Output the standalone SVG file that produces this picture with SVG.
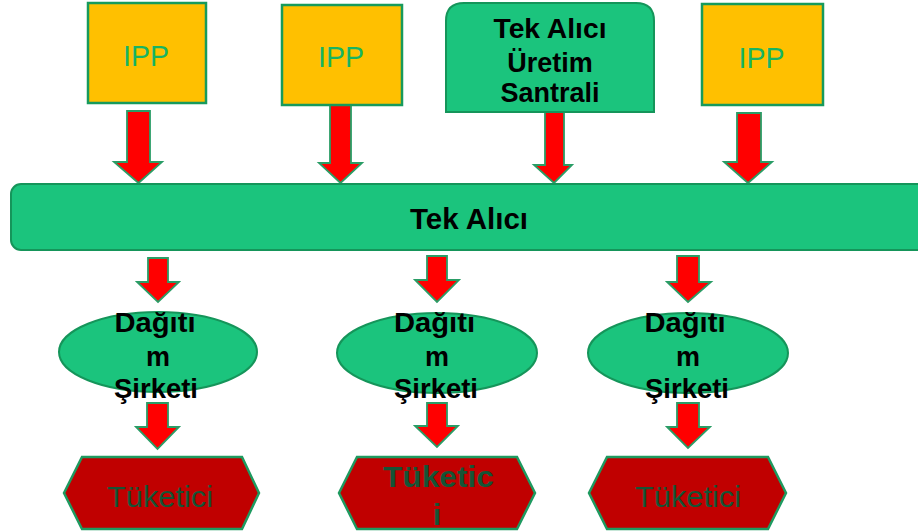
<svg xmlns="http://www.w3.org/2000/svg" width="918" height="532" viewBox="0 0 918 532">
<style>
.ipp{fill:#FFC000;stroke:#179A5C;stroke-width:2.5}
.grn{fill:#1BC47D;stroke:#15955A;stroke-width:2}
.hex{fill:#C00000;stroke:#1E9A60;stroke-width:2.5}
.arr{fill:#FF0000;stroke:#2A9D66;stroke-width:1.8;stroke-linejoin:miter}
.tipp{font-family:"Liberation Sans",Arial,sans-serif;font-size:30px;fill:#17B462;text-anchor:middle}
.tb{font-family:"Liberation Sans",Arial,sans-serif;font-weight:bold;fill:#000;text-anchor:middle}
.tt{font-family:"Liberation Sans",Arial,sans-serif;font-size:30px;fill:#155436;text-anchor:middle}
</style>
<rect width="918" height="532" fill="#fff"/>
<g id="connectors">
<polygon class="arr" points="127,111 150,111 150,162 162,162 138.5,183 114,162 127,162"/>
<polygon class="arr" points="330,105 351,105 351,163 362,163 340.5,183 319,163 330,163"/>
<polygon class="arr" points="545,112 564,112 564,165 572,165 554,183 534,165 545,165"/>
<polygon class="arr" points="737,113 761,113 761,162 772,162 748,183 724,162 737,162"/>
<polygon class="arr" points="148,258 168,258 168,282 179,282 158,302 137,282 148,282"/>
<polygon class="arr" points="427,256 447,256 447,280 459,280 437,302 415,280 427,280"/>
<polygon class="arr" points="677,256 699,256 699,282 711,282 688,302 667,282 677,282"/>
<polygon class="arr" points="147,403 168,403 168,427 179,427 157.5,449 136,427 147,427"/>
<polygon class="arr" points="427,403 447,403 447,426 458,426 437,447 415,426 427,426"/>
<polygon class="arr" points="677,403 699,403 699,427 710,427 688,448 667,427 677,427"/>
</g>
<g id="ipp1">
<rect class="ipp" x="88" y="3" width="118" height="100"/>
<text class="tipp" x="146" y="66" textLength="46" lengthAdjust="spacingAndGlyphs">IPP</text>
</g>
<g id="ipp2">
<rect class="ipp" x="282" y="5" width="120" height="100"/>
<text class="tipp" x="341" y="67" textLength="46" lengthAdjust="spacingAndGlyphs">IPP</text>
</g>
<g id="uretim">
<path class="grn" d="M446,112 L446,21 Q446,3 464,3 L636,3 Q654,3 654,21 L654,112 Z"/>
<text class="tb" font-size="27" x="550" y="38" textLength="113" lengthAdjust="spacingAndGlyphs">Tek Alıcı</text>
<text class="tb" font-size="27" x="550" y="72">Üretim</text>
<text class="tb" font-size="27" x="550" y="102">Santrali</text>
</g>
<g id="ipp4">
<rect class="ipp" x="702" y="4" width="121" height="101"/>
<text class="tipp" x="761.5" y="68" textLength="46" lengthAdjust="spacingAndGlyphs">IPP</text>
</g>
<g id="tekalici">
<rect class="grn" x="11" y="184" width="930" height="66" rx="10"/>
<text class="tb" font-size="30" x="469" y="229" textLength="118" lengthAdjust="spacingAndGlyphs">Tek Alıcı</text>
</g>
<g id="dagitim1">
<ellipse class="grn" cx="158" cy="352" rx="99" ry="40"/>
<text class="tb" font-size="27" x="155" y="332" textLength="81" lengthAdjust="spacingAndGlyphs">Dağıtı</text>
<text class="tb" font-size="27" x="158" y="366">m</text>
<text class="tb" font-size="27" x="156" y="398" textLength="84" lengthAdjust="spacingAndGlyphs">Şirketi</text>
</g>
<g id="dagitim2">
<ellipse class="grn" cx="437" cy="353" rx="100" ry="40"/>
<text class="tb" font-size="27" x="434.5" y="332" textLength="81" lengthAdjust="spacingAndGlyphs">Dağıtı</text>
<text class="tb" font-size="27" x="437" y="366">m</text>
<text class="tb" font-size="27" x="436" y="398" textLength="84" lengthAdjust="spacingAndGlyphs">Şirketi</text>
</g>
<g id="dagitim3">
<ellipse class="grn" cx="688" cy="353" rx="100" ry="40"/>
<text class="tb" font-size="27" x="685" y="332" textLength="81" lengthAdjust="spacingAndGlyphs">Dağıtı</text>
<text class="tb" font-size="27" x="688" y="366">m</text>
<text class="tb" font-size="27" x="687" y="398" textLength="84" lengthAdjust="spacingAndGlyphs">Şirketi</text>
</g>
<g id="tuketici1">
<polygon class="hex" points="64,493 82,457 242,457 259,493 242,529 82,529"/>
<text class="tt" x="160" y="507" textLength="106" lengthAdjust="spacingAndGlyphs">Tüketici</text>
</g>
<g id="tuketici2">
<polygon class="hex" points="339,493 357,457 517,457 535,493 517,529 357,529"/>
<text class="tt" font-weight="bold" x="438.5" y="487" textLength="111" lengthAdjust="spacingAndGlyphs">Tüketic</text>
<text class="tt" font-weight="bold" x="437" y="525">i</text>
</g>
<g id="tuketici3">
<polygon class="hex" points="589,493 607,457 768,457 786,493 768,529 607,529"/>
<text class="tt" x="688" y="507" textLength="106" lengthAdjust="spacingAndGlyphs">Tüketici</text>
</g>
</svg>
